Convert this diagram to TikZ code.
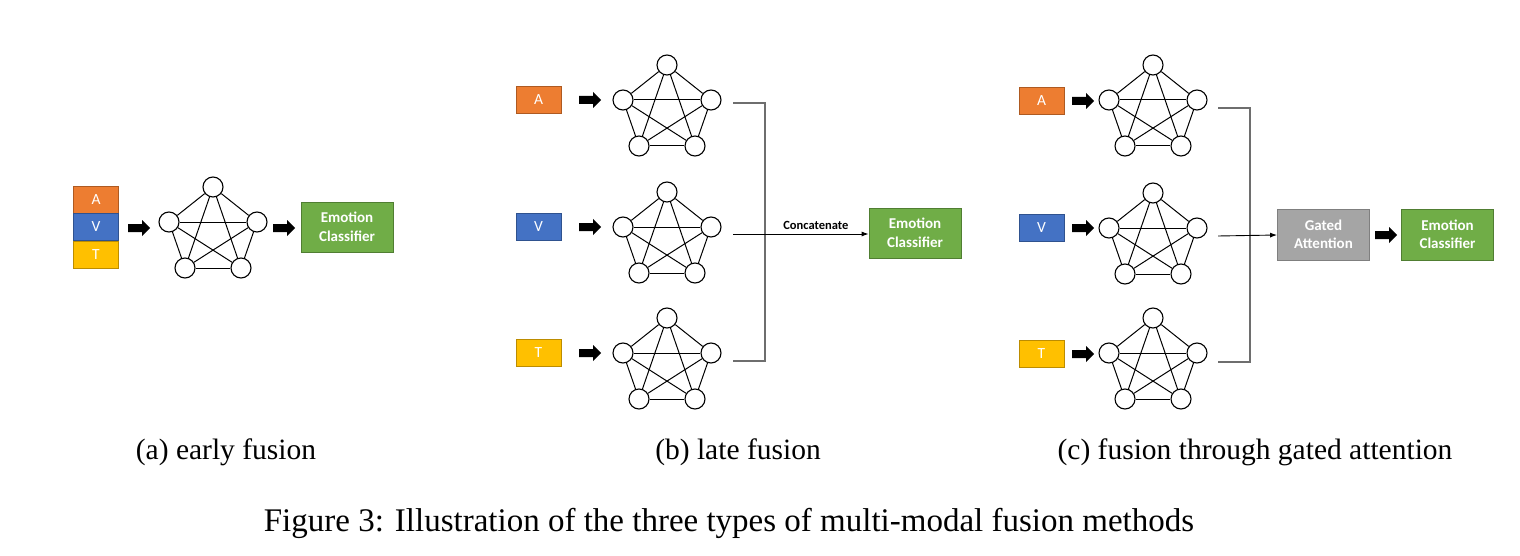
\documentclass[tikz,border=0pt]{standalone}
\usepackage{fontspec}
\setmainfont{Liberation Serif}
\newfontfamily\carl{Carlito}[BoldFont={Carlito Bold}]
\newfontfamily\carlb{Carlito Bold}
\usetikzlibrary{arrows.meta}
\definecolor{cOrange}{HTML}{ED7D31}\definecolor{bOrange}{HTML}{AE5A21}
\definecolor{cBlue}{HTML}{4472C4}\definecolor{bBlue}{HTML}{2F528F}
\definecolor{cYellow}{HTML}{FFC000}\definecolor{bYellow}{HTML}{BC8C00}
\definecolor{cGreen}{HTML}{70AD47}\definecolor{bGreen}{HTML}{507E32}
\definecolor{cGray}{HTML}{A5A5A5}\definecolor{bGray}{HTML}{7F7F7F}
\definecolor{brk}{HTML}{6E6E6E}
\tikzset{
  mod/.style={fill=c#1, draw=b#1, line width=0.8pt, minimum width=45pt, minimum height=27pt,
    inner sep=0pt, text=white, font=\carl\fontsize{15.5}{18}\selectfont},
  bigbox/.style={fill=c#1, draw=b#1, line width=0.8pt, minimum width=92pt, minimum height=50pt,
    inner sep=0pt, text=white, align=center, font=\carlb\fontsize{15}{18.5}\selectfont},
  vtx/.style={circle, draw=black, line width=1.1pt, fill=white, minimum size=20pt, inner sep=0pt},
  edge/.style={line width=1pt, black},
  brkline/.style={draw=brk, line width=1.4pt},
  thinarrow/.style={draw=black, line width=0.9pt, -{Latex[length=7pt,width=5pt]}},
  caption/.style={font=\fontsize{29.5}{34}\selectfont, inner sep=0pt},
  pent/.pic={
    \foreach \n/\x/\y in {t/0/-35,l/-44/0,r/44/0,bl/-28/46,br/28/46}
      \node[vtx] (-\n) at (\x,\y) {};
    \foreach \a/\b in {t/l,t/r,t/bl,t/br,l/r,l/bl,l/br,r/bl,r/br,bl/br}
      \draw[edge] (-\a) -- (-\b);
  },
  fatarrow/.pic={
    \fill[black] (-11,-4) -- (3,-4) -- (3,-8) -- (11,0) -- (3,8) -- (3,4) -- (-11,4) -- cycle;
  }
}
\begin{document}
\begin{tikzpicture}[x=1pt,y=-1pt]
\useasboundingbox (0,0) rectangle (1520,556);
% (a) early fusion
\node[mod=Orange] (aA) at (96,199.5) {A};
\node[mod=Blue]   (aV) at (96,227) {V};
\node[mod=Yellow] (aT) at (96,254.5) {T};
\pic at (139,228) {fatarrow};
\pic (ap) at (213,222) {pent};
\pic at (284,228) {fatarrow};
\node[bigbox=Green] (aC) at (347,227) {Emotion\\Classifier};
\node[caption] (capa) at (226,452) {(a) early fusion};

% (b) late fusion
\node[mod=Orange] (bA) at (538.5,100) {A};
\node[mod=Blue]   (bV) at (538.5,227) {V};
\node[mod=Yellow] (bT) at (538.5,353) {T};
\pic at (590,100) {fatarrow};
\pic at (590,227) {fatarrow};
\pic at (590,353) {fatarrow};
\pic (bp1) at (667,100) {pent};
\pic (bp2) at (667,227) {pent};
\pic (bp3) at (667,353) {pent};
\node[bigbox=Green] (bC) at (915,233) {Emotion\\Classifier};
\coordinate (b1s) at (733,103);
\coordinate (b1e) at (765,103);
\coordinate (b3s) at (733,361);
\coordinate (b3e) at (765,361);
\coordinate (b2s) at (733,234);
\draw[brkline] (b1s) -- (b1e) -- (b3e) -- (b3s);
\draw[thinarrow] (b2s) -- (bC.west |- b2s) node[midway, above=4pt, xshift=15pt, font=\carlb\fontsize{12.5}{14}\selectfont, inner sep=0pt] (cat) {Concatenate};
\node[caption] (capb) at (738,452) {(b) late fusion};

% (c) gated attention
\node[mod=Orange] (cA) at (1041.5,101) {A};
\node[mod=Blue]   (cV) at (1041.5,228) {V};
\node[mod=Yellow] (cT) at (1041.5,354) {T};
\pic at (1083,101) {fatarrow};
\pic at (1083,228) {fatarrow};
\pic at (1083,354) {fatarrow};
\pic (cp1) at (1153,100) {pent};
\pic (cp2) at (1153,228) {pent};
\pic (cp3) at (1153,353) {pent};
\node[bigbox=Gray, minimum height=51pt] (cG) at (1323.5,234.5) {Gated\\Attention};
\node[bigbox=Green, minimum height=51pt] (cC) at (1447.5,234.5) {Emotion\\Classifier};
\pic at (1386,235) {fatarrow};
\coordinate (c1s) at (1218,108);
\coordinate (c1e) at (1250,108);
\coordinate (c3s) at (1218,362);
\coordinate (c3e) at (1250,362);
\coordinate (c2s) at (1218,236);
\draw[brkline] (c1s) -- (c1e) -- (c3e) -- (c3s);
\draw[thinarrow] (c2s) -- (cG.west |- 0,235);
\node[caption] (capc) at (1255,452) {(c) fusion through gated attention};

\node[caption, font=\fontsize{33}{38}\selectfont] (fig) at (729,523) {Figure 3: Illustration of the three types of multi-modal fusion methods};
\end{tikzpicture}
\end{document}
